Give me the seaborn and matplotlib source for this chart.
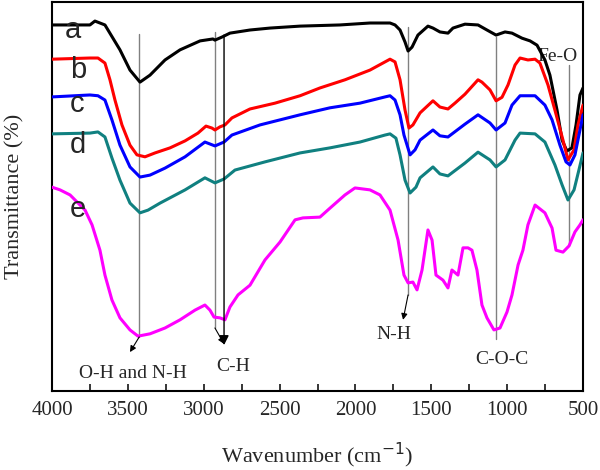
import numpy as np
import pandas as pd
import matplotlib
matplotlib.use("Agg")
import matplotlib.pyplot as plt
import seaborn as sns

# FTIR spectra (wavenumber in cm-1, transmittance in a.u.)
wn_a = [4000, 3750, 3717, 3651, 3552, 3486, 3420, 3354, 3255, 3156, 3024, 2939, 2926, 2879, 2827, 2695,
        2563, 2365, 2102, 1904, 1772, 1739, 1706, 1673, 1653, 1627, 1588, 1522, 1489, 1443, 1390, 1357,
        1278, 1192, 1133, 1073, 1014, 968, 902, 849, 803, 751, 718, 671, 638, 606, 573, 546, 520, 500]
t_a = [94.1, 94.1, 95.1, 94.1, 87.7, 82.5, 79.4, 81.2, 85.1, 87.7, 90.0, 90.5, 90.2, 91.0, 92.0, 92.8,
       93.3, 93.8, 94.1, 94.6, 94.6, 94.1, 92.8, 89.7, 87.4, 88.4, 91.5, 93.8, 93.3, 92.3, 92.0, 93.3,
       94.3, 94.1, 92.8, 91.5, 92.3, 92.0, 90.7, 90.0, 88.9, 85.1, 81.2, 72.2, 64.5, 61.7, 62.5, 68.4, 76.1, 77.9]

wn_b = [4000, 3750, 3697, 3651, 3618, 3585, 3539, 3486, 3440, 3387, 3321, 3222, 3123, 3038, 2985, 2946,
        2926, 2893, 2860, 2814, 2695, 2530, 2365, 2234, 2069, 1904, 1805, 1772, 1739, 1706, 1673, 1647,
        1621, 1574, 1489, 1443, 1390, 1344, 1278, 1192, 1166, 1113, 1073, 1034, 994, 948, 915, 863,
        816, 784, 731, 685, 632, 599, 559, 533, 500]
t_b = [85.3, 85.6, 85.6, 84.3, 80.0, 74.8, 68.4, 63.2, 60.7, 60.2, 61.2, 62.5, 64.3, 66.3, 68.1, 67.6,
       67.1, 67.9, 68.4, 70.2, 72.5, 74.0, 75.9, 77.9, 80.0, 82.5, 84.6, 85.3, 84.6, 80.0, 72.2, 67.6,
       68.4, 71.5, 74.6, 73.0, 72.5, 74.0, 76.3, 80.0, 79.4, 77.4, 74.6, 75.5, 78.7, 83.8, 85.6, 85.1,
       85.3, 84.3, 78.7, 72.2, 64.5, 59.4, 62.0, 68.4, 73.5]

wn_c = [4000, 3750, 3697, 3651, 3605, 3552, 3486, 3420, 3354, 3255, 3123, 2992, 2926, 2866, 2814, 2629,
        2365, 2168, 1970, 1805, 1772, 1739, 1706, 1680, 1640, 1607, 1574, 1489, 1443, 1390, 1278, 1192,
        1113, 1073, 1014, 968, 915, 816, 751, 704, 652, 612, 586, 553, 520, 500]
t_c = [75.6, 76.1, 75.9, 74.8, 69.7, 63.2, 57.6, 55.0, 55.5, 57.3, 60.2, 64.0, 63.0, 64.0, 65.8, 68.4,
       71.0, 72.8, 74.0, 75.6, 75.9, 74.8, 71.0, 65.8, 60.7, 62.0, 64.5, 67.1, 65.6, 65.3, 68.6, 71.0,
       68.9, 67.1, 68.9, 73.5, 75.9, 75.9, 73.5, 69.7, 63.2, 58.9, 58.1, 60.7, 67.1, 71.0]

wn_d = [4000, 3750, 3697, 3651, 3605, 3552, 3486, 3420, 3367, 3288, 3123, 2992, 2926, 2866, 2794, 2596,
        2365, 2168, 1970, 1805, 1772, 1733, 1706, 1673, 1640, 1601, 1574, 1489, 1443, 1390, 1278, 1192,
        1113, 1073, 1014, 948, 915, 816, 751, 685, 638, 599, 559, 527, 500]
t_d = [66.1, 66.3, 66.6, 65.3, 59.9, 54.2, 48.3, 45.8, 46.5, 48.3, 51.7, 54.8, 53.5, 54.5, 56.8, 58.9,
       61.2, 62.5, 64.0, 65.8, 66.1, 65.0, 60.7, 54.2, 50.9, 52.4, 54.8, 57.6, 55.8, 55.3, 58.6, 61.4,
       59.4, 57.6, 59.4, 64.5, 66.3, 66.1, 64.0, 58.1, 53.0, 49.1, 51.7, 56.8, 61.2]

wn_e = [4000, 3947, 3881, 3782, 3736, 3684, 3651, 3605, 3552, 3486, 3433, 3354, 3255, 3156, 3057, 2992,
        2959, 2932, 2893, 2860, 2827, 2774, 2695, 2596, 2497, 2398, 2346, 2234, 2168, 2069, 2003, 1904,
        1838, 1772, 1719, 1680, 1653, 1621, 1594, 1561, 1522, 1495, 1469, 1423, 1390, 1364, 1324, 1291,
        1258, 1232, 1199, 1166, 1133, 1087, 1047, 1001, 968, 928, 896, 863, 816, 751, 704, 678,
        632, 592, 553, 520, 500]
t_e = [52.4, 51.7, 50.4, 46.5, 42.7, 36.2, 29.8, 23.4, 18.8, 15.7, 14.1, 14.7, 16.2, 18.3, 20.8, 22.1,
       20.8, 19.0, 18.8, 18.3, 21.6, 24.7, 27.2, 33.7, 38.3, 44.0, 44.5, 44.7, 47.0, 50.4, 52.2, 51.7,
       50.4, 46.5, 38.8, 29.8, 27.8, 28.0, 26.0, 31.1, 41.4, 38.8, 29.8, 28.5, 26.5, 31.1, 29.8, 36.8,
       36.8, 36.2, 31.1, 22.1, 18.8, 15.7, 16.2, 20.3, 24.7, 32.4, 36.2, 42.7, 47.8, 45.8, 41.9, 36.2,
       35.7, 37.3, 40.9, 42.7, 44.0]

names = ["a", "b", "c", "d", "e"]
colors = ["black", "#FF0000", "#0000FF", "#108080", "#FF00FF"]

sns.set_style("ticks")
plt.rcParams['font.family'] = ['Liberation Serif', 'DejaVu Serif']

fig = plt.figure(figsize=(6, 4.7), dpi=100)
ax = fig.add_axes([52 / 600, 1 - 391 / 470, 531 / 600, 389 / 470])

series = [(wn_a, t_a), (wn_b, t_b), (wn_c, t_c), (wn_d, t_d), (wn_e, t_e)]
for (wn, t), name, col in zip(series, names, colors):
    df = pd.DataFrame({"wn": wn, "T": t})
    sns.lineplot(data=df, x="wn", y="T", ax=ax, color=col, lw=2.2, sort=False,
                 estimator=None, zorder=3)

# label letters for each curve
ax.text(3914, 90.7, "a", family="Liberation Sans", fontsize=21, ha="left", va="baseline", zorder=4)
for name, yb in zip(["b", "c", "d", "e"], [80.5, 71.7, 61.2, 44.7]):
    ax.text(3881, yb, name, family="Liberation Sans", fontsize=21, ha="left", va="baseline", zorder=4)

# band marker lines
gray = "#808080"
ax.plot([3425, 3425], [91.8, 13.9], color=gray, lw=1, zorder=2)
ax.annotate("", xy=(3486, 10.0), xytext=(3425, 13.9),
            arrowprops=dict(arrowstyle="-|>", color="black", lw=0.8, mutation_scale=9, shrinkA=0, shrinkB=0))
ax.plot([2926, 2926], [92.3, 16.2], color=gray, lw=1, zorder=2)
ax.annotate("", xy=(2866, 12.1), xytext=(2926, 16.2),
            arrowprops=dict(arrowstyle="-|>", color="black", lw=0.8, mutation_scale=9, shrinkA=0, shrinkB=0))
ax.annotate("", xy=(2866, 11.8), xytext=(2866, 91.5),
            arrowprops=dict(arrowstyle="-|>", color="black", lw=1, mutation_scale=14, shrinkA=0, shrinkB=0))
ax.plot([1653, 1653], [93.6, 24.7], color=gray, lw=1, zorder=2)
ax.annotate("", xy=(1686, 18.3), xytext=(1653, 24.7),
            arrowprops=dict(arrowstyle="-|>", color="black", lw=0.8, mutation_scale=9, shrinkA=0, shrinkB=0))
ax.plot([1073, 1073], [91.0, 13.4], color=gray, lw=1, zorder=2)
ax.plot([592, 592], [83.8, 37.5], color=gray, lw=1, zorder=2)

ax.text(3466, 4.6, "O-H and N-H", fontsize=14, ha="center", va="center")
ax.text(2807, 6.4, "C-H", fontsize=14, ha="center", va="center")
ax.text(1746, 14.4, "N-H", fontsize=14, ha="center", va="center")
ax.text(1034, 8.0, "C-O-C", fontsize=14, ha="center", va="center")
ax.text(671, 85.9, "Fe-O", fontsize=14, ha="center", va="center", zorder=1)

ax.set_xlim(4000, 500)
ax.set_ylim(0, 100)
ax.set_xticks([4000, 3500, 3000, 2500, 2000, 1500, 1000, 500])
ax.set_xticks(np.arange(3750, 500, -500), minor=True)
ax.set_yticks([])
ax.tick_params(axis="x", which="both", direction="in", length=5, width=1.3, labelsize=15, pad=7)
ax.set_xlabel("Wavenumber (cm$^{-1}$)", fontsize=16, labelpad=15)
ax.set_ylabel("Transmittance (%)", fontsize=16, labelpad=20)
for sp in ax.spines.values():
    sp.set_visible(True)
    sp.set_linewidth(1.5)
    sp.set_color("black")

fig.savefig("out.png", dpi=100)
